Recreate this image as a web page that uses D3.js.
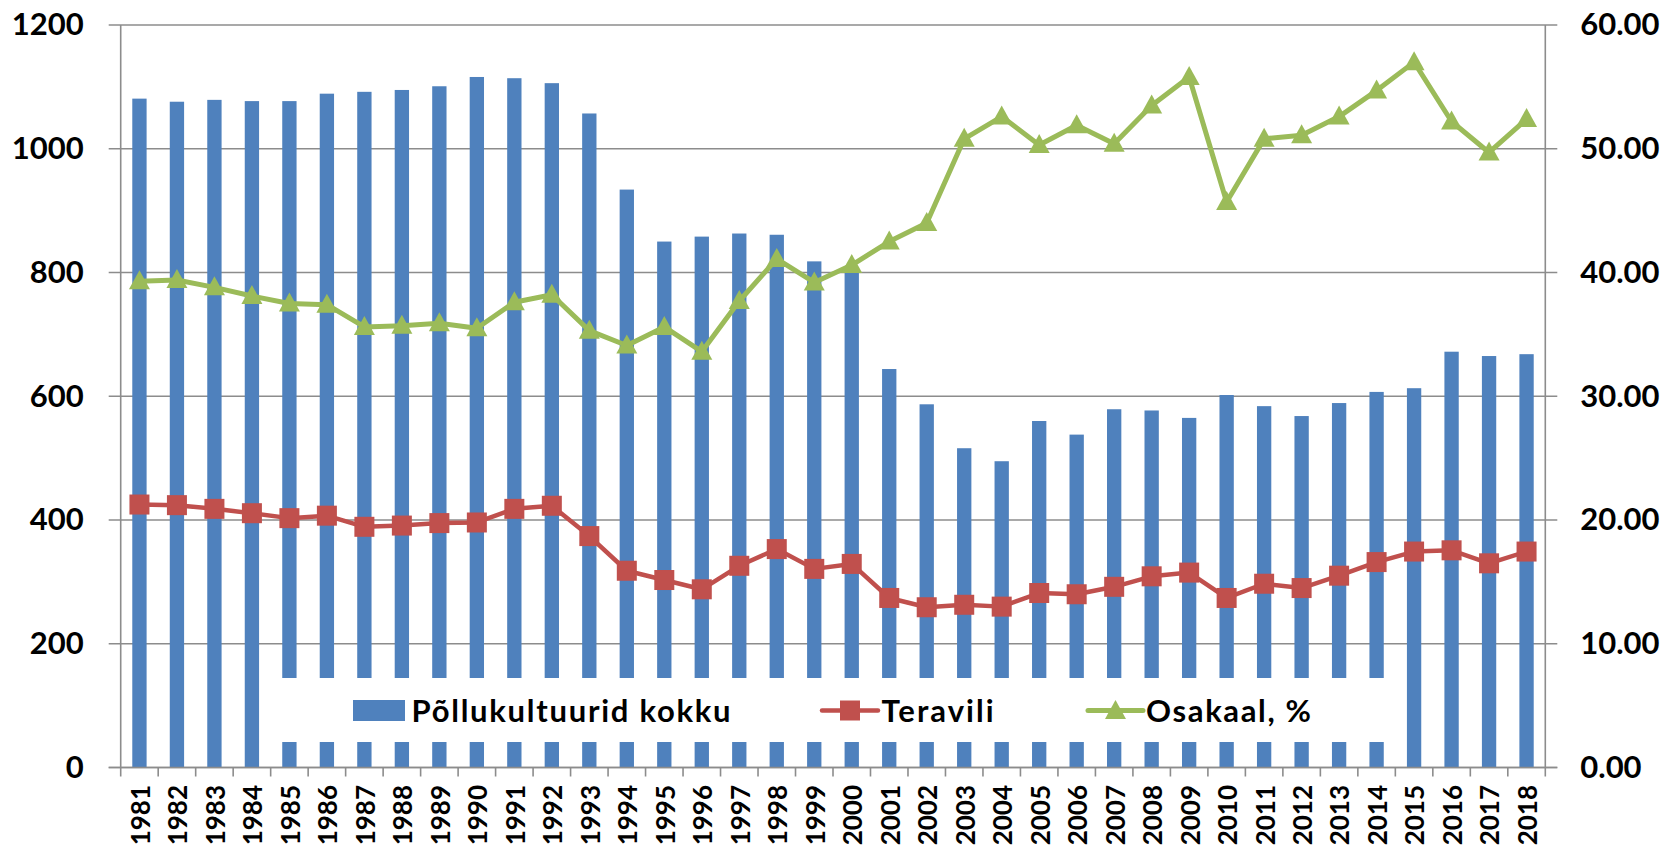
<!DOCTYPE html>
<html><head><meta charset="utf-8">
<script src="https://cdn.jsdelivr.net/npm/d3@7"></script>
<style>
html,body{margin:0;padding:0;background:#fff;}
svg{display:block;}
text{font-family:Lato,"Open Sans",sans-serif;font-weight:700;fill:#000;}
</style></head>
<body>
<svg id="c" width="1672" height="846"></svg>
<script>
const years = [1981,1982,1983,1984,1985,1986,1987,1988,1989,1990,1991,1992,1993,1994,1995,1996,1997,1998,1999,2000,2001,2002,2003,2004,2005,2006,2007,2008,2009,2010,2011,2012,2013,2014,2015,2016,2017,2018];
const kokku = [1081,1076,1079,1077,1077,1089,1092,1095,1101,1116,1114,1106,1057,934,850,858,863,861,818,806,644,587,516,495,560,538,579,577,565,602,584,568,589,607,613,672,665,668];
const teravili = [425,424,418,411,403,407,389,391,395,396,418,423,374,318,303,288,326,353,321,329,274,259,263,260,282,280,292,309,315,274,297,290,310,332,349,351,330,349];
const osakaal = [39.3,39.4,38.8,38.1,37.5,37.4,35.6,35.7,35.9,35.5,37.6,38.2,35.3,34.1,35.6,33.6,37.7,41.1,39.2,40.6,42.5,44.0,50.8,52.6,50.3,51.9,50.4,53.5,55.8,45.7,50.8,51.1,52.6,54.7,57.0,52.2,49.7,52.4];
const leftTicks = [0,200,400,600,800,1000,1200];
const rightTicks = [0,10,20,30,40,50,60];
const seriesNames = ["Põllukultuurid kokku","Teravili","Osakaal, %"];

const W = 1672, H = 846;
const L = 120.7, R = 1545.3, T = 25, B = 767.5;
const blue = "#4F81BD", red = "#C0504D", green = "#9BBB59", grid = "#8C8C8C";

const svg = d3.select("#c");
const x = d3.scaleBand().domain(years).range([L, R]).paddingInner(0).paddingOuter(0);
const yL = d3.scaleLinear().domain([0,1200]).range([B, T]);
const yR = d3.scaleLinear().domain([0,60]).range([B, T]);
const bw = x.bandwidth()*0.382;
const cx = d => x(d) + x.bandwidth()/2;

// gridlines (with outer tick stubs on both sides)
svg.append("g").selectAll("line").data(leftTicks).join("line")
  .attr("x1", L-12).attr("x2", R+12)
  .attr("y1", d=>yL(d)).attr("y2", d=>yL(d))
  .attr("stroke", grid).attr("stroke-width", 1.6);

// bars
svg.append("g").selectAll("rect").data(years).join("rect")
  .attr("x", (d)=>cx(d)-bw/2).attr("width", bw)
  .attr("y", (d,i)=>yL(kokku[i])).attr("height", (d,i)=>B-yL(kokku[i]))
  .attr("fill", blue);

// axes lines
svg.append("line").attr("x1",L).attr("x2",L).attr("y1",T).attr("y2",B).attr("stroke",grid).attr("stroke-width",1.6);
svg.append("line").attr("x1",R).attr("x2",R).attr("y1",T).attr("y2",B).attr("stroke",grid).attr("stroke-width",1.6);
svg.append("line").attr("x1",L-12).attr("x2",R+12).attr("y1",B).attr("y2",B).attr("stroke",grid).attr("stroke-width",1.6);
// x tick marks at band boundaries
const bounds = years.map(d=>x(d)).concat([R]);
svg.append("g").selectAll("line").data(bounds).join("line")
  .attr("x1", d=>d).attr("x2", d=>d).attr("y1", B).attr("y2", B+9)
  .attr("stroke", grid).attr("stroke-width", 1.6);

// left axis labels
const gl = svg.append("g").attr("transform", `translate(${L},0)`)
  .call(d3.axisLeft(yL).tickValues(leftTicks).tickSize(0).tickPadding(37).tickFormat(d3.format("d")));
gl.select(".domain").remove();
gl.selectAll("text").attr("font-size", 31).attr("font-family","Lato").attr("font-weight",700).attr("fill","#000");

// right axis labels
const gr = svg.append("g").attr("transform", `translate(${R},0)`)
  .call(d3.axisRight(yR).tickValues(rightTicks).tickSize(0).tickPadding(35).tickFormat(d3.format(".2f")));
gr.select(".domain").remove();
gr.selectAll("text").attr("font-size", 31).attr("font-family","Lato").attr("font-weight",700).attr("fill","#000");

// x labels rotated
svg.append("g").selectAll("text").data(years).join("text")
  .attr("transform", d=>`translate(${cx(d)+1},785) rotate(-90)`)
  .attr("text-anchor","end").attr("dy","0.36em")
  .attr("font-size", 26).text(d=>d);

// legend box
const lg = svg.append("g");
lg.append("rect").attr("x",260).attr("y",678).attr("width",1395-260).attr("height",742-678).attr("fill","#fff");

// Teravili line
const lineL = d3.line().x((d,i)=>cx(years[i])).y(d=>yL(d));
svg.append("path").datum(teravili).attr("d", lineL).attr("fill","none").attr("stroke",red).attr("stroke-width",4.5).attr("stroke-linejoin","round");
svg.append("g").selectAll("rect").data(teravili).join("rect")
  .attr("x",(d,i)=>cx(years[i])-10).attr("y",d=>yL(d)-10).attr("width",20).attr("height",20).attr("fill",red);

// Osakaal line
const lineR = d3.line().x((d,i)=>cx(years[i])).y(d=>yR(d));
svg.append("path").datum(osakaal).attr("d", lineR).attr("fill","none").attr("stroke",green).attr("stroke-width",5).attr("stroke-linejoin","round");
const tri = (px,py)=>`M${px},${py-11}L${px+10.5},${py+8}L${px-10.5},${py+8}Z`;
svg.append("g").selectAll("path").data(osakaal).join("path")
  .attr("d",(d,i)=>tri(cx(years[i]), yR(d))).attr("fill",green);

// legend items
lg.append("rect").attr("x",353).attr("y",700).attr("width",52).attr("height",21).attr("fill",blue);
lg.append("text").attr("x",411.5).attr("y",721.5).attr("font-size",31)
  .attr("textLength",319).attr("lengthAdjust","spacing").text(seriesNames[0]);
lg.append("line").attr("x1",822).attr("x2",878).attr("y1",710.5).attr("y2",710.5).attr("stroke",red).attr("stroke-width",4.5).attr("stroke-linecap","round");
lg.append("rect").attr("x",840).attr("y",700.5).attr("width",20).attr("height",20).attr("fill",red);
lg.append("text").attr("x",881.5).attr("y",721.5).attr("font-size",31)
  .attr("textLength",112).attr("lengthAdjust","spacing").text(seriesNames[1]);
lg.append("line").attr("x1",1088).attr("x2",1143).attr("y1",710.5).attr("y2",710.5).attr("stroke",green).attr("stroke-width",5).attr("stroke-linecap","round");
lg.append("path").attr("d",tri(1115.5,711)).attr("fill",green);
lg.append("text").attr("x",1146).attr("y",721.5).attr("font-size",31)
  .attr("textLength",165).attr("lengthAdjust","spacing").text(seriesNames[2]);
</script>
</body></html>
